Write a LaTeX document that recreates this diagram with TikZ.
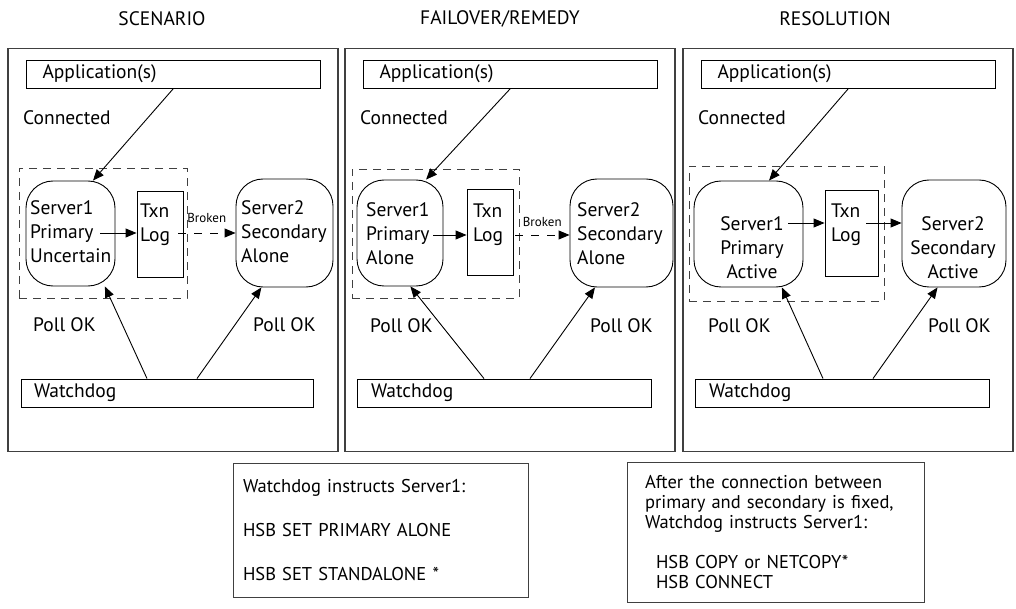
\documentclass[tikz,border=0pt]{standalone}
\usepackage{fontspec}
\setmainfont{PT Sans}
\usepackage{tikz}
\usetikzlibrary{shapes,arrows.meta}
\usetikzlibrary{calc}
\tikzstyle{panel} = [rectangle, draw=black!75, line width=1.1pt,
    minimum width=330pt, minimum height=403pt]
\tikzstyle{bar} = [rectangle, draw, line width=0.9pt, minimum height=28pt,
    text width=262pt, inner xsep=16pt, align=left]
\tikzstyle{server} = [rectangle, draw, line width=0.9pt, rounded corners=27pt]
\tikzstyle{txnbox} = [rectangle, draw, line width=0.9pt, minimum width=46pt, minimum height=86pt]
\tikzstyle{group} = [rectangle, draw=black!75, line width=0.9pt, dash pattern=on 8pt off 6pt]
\tikzstyle{plain} = [anchor=west, inner sep=0pt, align=left]
\tikzstyle{line} = [draw, line width=0.9pt, -{Triangle[length=11pt,width=9pt]}]
\tikzstyle{broken} = [draw, line width=0.9pt, dash pattern=on 8pt off 8pt, -{Triangle[length=11pt,width=9pt]}]
\tikzstyle{note} = [rectangle, draw=black!75, line width=1pt, align=left,
    font=\fontsize{18.5}{20}\selectfont]

\begin{document}
\begin{tikzpicture}[x=1pt, y=-1pt, font=\fontsize{19.5}{24}\selectfont]
    \useasboundingbox (0,0) rectangle (1016,609);
    % Titles
    \node (t1) at (162,19) {SCENARIO};
    \node (t2) at (500,19) {FAILOVER/REMEDY};
    \node (t3) at (835,19) {RESOLUTION};
    % Panels
    \node [panel] (pan1) at (173,250) {};
    \node [panel] (pan2) at (510,250) {};
    \node [panel] (pan3) at (848,250) {};

    % ---- Scenario
    \node [bar] (app1) at (173.5,74) {Application(s)};
    \node [plain] (conn1) at (23,118) {Connected};
    \node [group, minimum width=168pt, minimum height=130pt] (grp1) at (103,233) {};
    \node [server, minimum width=89pt, minimum height=105pt] (srv1a) at (70.5,233.5) {};
    \node [plain] (srv1atxt) at (30,232) {Server1\\Primary\\Uncertain};
    \node [txnbox] (txn1) at (160,234.5) {};
    \node [plain] (txn1txt) at (140,225) {Txn\\Log};
    \node [server, minimum width=97pt, minimum height=108pt] (srv2a) at (284.5,233) {};
    \node [plain] (srv2atxt) at (241,232) {Server2\\Secondary\\Alone};
    \node [plain] (poll1a) at (33,325) {Poll OK};
    \node [plain] (poll2a) at (253,325) {Poll OK};
    \node [bar, text width=266pt, inner xsep=13pt] (wd1) at (167,393) {Watchdog};
    \coordinate (p1s) at (100,233);
    \coordinate (b1s) at (178,233);
    \path [line] (app1.south) -- (srv1a.67);
    \path [line] (p1s) -- (p1s -| txn1.west);
    \path [broken] (b1s) -- node[above=7pt, font=\fontsize{13}{15}\selectfont] {Broken} (b1s -| srv2a.west);
    \path [line] ([xshift=-20pt]wd1.north) -- (srv1a.-57);
    \path [line] ([xshift=30pt]wd1.north) -- (srv2a.-113);

    % ---- Failover/Remedy
    \node [bar] (app2) at (510.5,74) {Application(s)};
    \node [plain] (conn2) at (360,118) {Connected};
    \node [group, minimum width=167pt, minimum height=129pt] (grp2) at (435.5,233.5) {};
    \node [server, minimum width=86pt, minimum height=106pt] (srv1b) at (400,233) {};
    \node [plain] (srv1btxt) at (366,234) {Server1\\Primary\\Alone};
    \node [txnbox] (txn2) at (490,232) {};
    \node [plain] (txn2txt) at (473,225) {Txn\\Log};
    \node [server, minimum width=103pt, minimum height=108pt] (srv2b) at (621.5,233) {};
    \node [plain] (srv2btxt) at (577,234) {Server2\\Secondary\\Alone};
    \node [plain] (poll1b) at (370,326) {Poll OK};
    \node [plain] (poll2b) at (590,326) {Poll OK};
    \node [bar, text width=266pt, inner xsep=14pt] (wd2) at (504,393) {Watchdog};
    \coordinate (p2s) at (433,235);
    \coordinate (b2s) at (515,235);
    \path [line] (app2.south) -- (srv1b.64);
    \path [line] (p2s) -- (p2s -| txn2.west);
    \path [broken] (b2s) -- node[above=5pt, font=\fontsize{13}{15}\selectfont] {Broken} (b2s -| srv2b.west);
    \path [line] ([xshift=-20pt]wd2.north) -- (srv1b.-79);
    \path [line] ([xshift=26pt]wd2.north) -- (srv2b.-116);

    % ---- Resolution
    \node [bar] (app3) at (848.5,74) {Application(s)};
    \node [plain] (conn3) at (698,118) {Connected};
    \node [group, minimum width=195pt, minimum height=135pt] (grp3) at (786.5,233.5) {};
    \node [server, minimum width=109pt, minimum height=106pt] (srv1c) at (748.5,234) {};
    \node [align=center, inner sep=0pt] (srv1ctxt) at (752,248) {Server1\\Primary\\Active};
    \node [txnbox, minimum width=53pt] (txn3) at (851.5,233) {};
    \node [plain] (txn3txt) at (831,225) {Txn\\Log};
    \node [server, minimum width=104pt, minimum height=107pt] (srv2c) at (954,233.5) {};
    \node [align=center, inner sep=0pt] (srv2ctxt) at (953,248) {Server2\\Secondary\\Active};
    \node [plain] (poll1c) at (708,326) {Poll OK};
    \node [plain] (poll2c) at (928,326) {Poll OK};
    \node [bar, text width=266pt, inner xsep=14pt] (wd3) at (842,393) {Watchdog};
    \coordinate (p3s) at (788,223);
    \coordinate (t3s) at (866,223);
    \path [line] (app3.south) -- (srv1c.69);
    \path [line] (p3s) -- (p3s -| txn3.west);
    \path [line] (t3s) -- (t3s -| srv2c.west);
    \path [line] ([xshift=-19pt]wd3.north) -- (srv1c.-58);
    \path [line] ([xshift=31pt]wd3.north) -- (srv2c.-107);

    % Notes
    \node [note, minimum width=295pt, minimum height=134pt, text width=275pt] (note1) at (380.5,530)
        {Watchdog instructs Server1:\\[24pt] HSB SET PRIMARY ALONE\\[24pt] HSB SET STANDALONE *};
    \node [note, minimum width=297pt, minimum height=140pt, text width=261pt] (note2) at (775.5,532)
        {After the connection between\\ primary and secondary is fixed,\\ Watchdog instructs Server1:\\[20pt]
        \hspace*{11pt}HSB COPY or NETCOPY*\\ \hspace*{11pt}HSB CONNECT};
\end{tikzpicture}
\end{document}
